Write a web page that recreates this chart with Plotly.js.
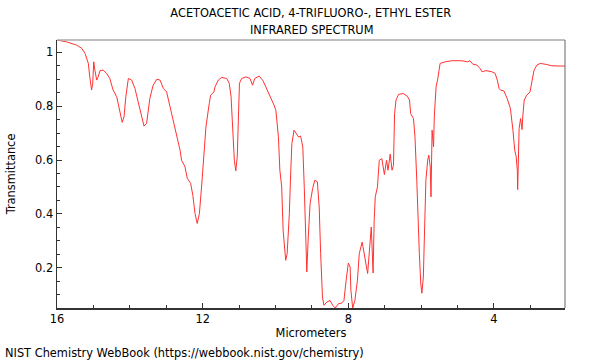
<!DOCTYPE html>
<html><head><meta charset="utf-8">
<script src="https://cdn.plot.ly/plotly-3.0.1.min.js"></script>
<style>html,body{margin:0;padding:0;background:#fff}#c{width:600px;height:360px}</style>
</head><body><div id="c"></div>
<script>
const wavelength = [16.00,15.74,15.46,15.32,15.23,15.14,15.10,15.05,15.02,14.99,
14.96,14.91,14.87,14.82,14.73,14.64,14.55,14.46,14.36,14.27,
14.21,14.16,14.11,14.04,13.95,13.86,13.77,13.70,13.61,13.54,
13.45,13.36,13.26,13.17,13.08,12.99,12.90,12.81,12.71,12.62,
12.58,12.49,12.42,12.33,12.27,12.21,12.15,12.09,12.03,11.98,
11.91,11.82,11.78,11.69,11.66,11.57,11.48,11.34,11.27,11.22,
11.18,11.13,11.09,11.05,11.02,10.99,10.93,10.81,10.70,10.63,
10.57,10.45,10.34,10.24,10.15,10.04,9.99,9.92,9.88,9.83,
9.79,9.72,9.68,9.62,9.58,9.55,9.49,9.42,9.37,9.31,
9.25,9.21,9.17,9.14,9.10,9.05,8.98,8.92,8.85,8.80,
8.76,8.71,8.67,8.59,8.50,8.43,8.36,8.27,8.18,8.12,
8.06,8.00,7.95,7.93,7.88,7.82,7.75,7.70,7.62,7.56,
7.47,7.37,7.32,7.29,7.26,7.20,7.15,7.08,7.01,6.95,
6.91,6.85,6.80,6.76,6.73,6.69,6.62,6.49,6.38,6.32,
6.29,6.21,6.17,6.12,6.08,6.05,6.01,5.98,5.94,5.91,
5.87,5.82,5.79,5.75,5.73,5.70,5.66,5.64,5.59,5.55,
5.48,5.34,5.16,4.88,4.73,4.66,4.58,4.47,4.38,4.33,
4.22,4.06,3.97,3.91,3.86,3.82,3.73,3.64,3.55,3.48,
3.43,3.39,3.36,3.35,3.33,3.31,3.27,3.25,3.23,3.21,
3.17,3.10,3.01,2.96,2.90,2.82,2.73,2.55,2.41,2.05];
const transmittance = [1.046,1.039,1.027,1.015,0.996,0.959,0.909,0.860,0.885,0.965,
0.934,0.897,0.909,0.932,0.934,0.922,0.903,0.860,0.835,0.773,
0.740,0.760,0.835,0.903,0.897,0.866,0.816,0.773,0.726,0.736,
0.829,0.878,0.900,0.897,0.866,0.853,0.798,0.754,0.686,0.636,
0.599,0.577,0.531,0.513,0.469,0.401,0.364,0.401,0.500,0.612,
0.723,0.810,0.841,0.853,0.872,0.897,0.907,0.903,0.885,0.835,
0.723,0.599,0.560,0.612,0.748,0.885,0.903,0.909,0.903,0.878,
0.903,0.912,0.894,0.866,0.835,0.804,0.785,0.686,0.562,0.500,
0.339,0.227,0.252,0.401,0.562,0.661,0.711,0.699,0.686,0.689,
0.649,0.500,0.277,0.184,0.314,0.438,0.494,0.525,0.519,0.425,
0.252,0.091,0.060,0.072,0.078,0.060,0.050,0.066,0.068,0.078,
0.153,0.217,0.202,0.116,0.050,0.078,0.153,0.252,0.295,0.252,
0.178,0.351,0.180,0.376,0.463,0.500,0.599,0.605,0.546,0.599,
0.562,0.622,0.562,0.580,0.773,0.823,0.844,0.847,0.837,0.823,
0.773,0.754,0.686,0.525,0.339,0.252,0.140,0.105,0.165,0.376,
0.525,0.599,0.618,0.574,0.463,0.711,0.649,0.760,0.872,0.897,
0.959,0.965,0.969,0.969,0.965,0.969,0.956,0.953,0.940,0.928,
0.932,0.928,0.922,0.897,0.866,0.860,0.857,0.829,0.792,0.711,
0.636,0.612,0.562,0.490,0.636,0.717,0.754,0.729,0.713,0.760,
0.823,0.841,0.853,0.891,0.934,0.953,0.959,0.955,0.950,0.949];
const xTicks = [16, 12, 8, 4];
const yTicks = [0.2, 0.4, 0.6, 0.8, 1];
const yTickText = ['0.2', '0.4', '0.6', '0.8', '1'];

const F = 'DejaVu Sans, sans-serif';
const FS = 11.4;
Plotly.newPlot('c', [{
  x: wavelength, y: transmittance, type: 'scatter', mode: 'lines',
  line: {color: 'rgb(255,50,50)', width: 1}, hoverinfo: 'skip'
}], {
  width: 600, height: 360,
  margin: {l: 57, r: 35, t: 40, b: 52},
  paper_bgcolor: '#fff', plot_bgcolor: '#fff',
  showlegend: false,
  font: {family: F, size: FS, color: '#000'},
  title: {text: 'ACETOACETIC ACID, 4-TRIFLUORO-, ETHYL ESTER',
    font: {family: F, size: FS, color: '#000'}, x: 0.518, xanchor: 'center',
    yref: 'container', y: 0.964, yanchor: 'middle'},
  xaxis: {
    range: [16, 2.05], autorange: false, tickvals: xTicks, ticktext: xTicks.map(String),
    ticks: 'inside', ticklen: 5, tickcolor: '#333', showgrid: false, zeroline: false,
    showline: true, linecolor: '#333', linewidth: 1.5,
    minor: {dtick: 1, ticks: 'inside', ticklen: 3, tickcolor: '#333', showgrid: false},
    tickfont: {family: F, size: FS},
    title: {text: 'Micrometers', font: {family: F, size: FS}, standoff: 3}
  },
  yaxis: {
    range: [0.05, 1.046], autorange: false, tickvals: yTicks, ticktext: yTickText,
    ticks: 'inside', ticklen: 5, tickcolor: '#333', showgrid: false, zeroline: false,
    showline: true, linecolor: '#333', linewidth: 1.5,
    minor: {dtick: 0.05, ticks: 'inside', ticklen: 3, tickcolor: '#333', showgrid: false},
    tickfont: {family: F, size: FS},
    title: {text: 'Transmittance', font: {family: F, size: FS}, standoff: 17}
  },
  shapes: [
    {type: 'line', xref: 'paper', yref: 'paper', x0: 0, x1: 1, y0: 1, y1: 1, line: {color: '#aaa', width: 1.5}},
    {type: 'line', xref: 'paper', yref: 'paper', x0: 1, x1: 1, y0: 0, y1: 1, line: {color: '#666', width: 1}}
  ],
  annotations: [{
    text: 'INFRARED SPECTRUM',
    xref: 'paper', yref: 'paper', x: 0.5, y: 1.037, xanchor: 'center', yanchor: 'middle',
    showarrow: false, font: {family: F, size: FS, color: '#000'}
  }, {
    text: 'NIST Chemistry WebBook (https://webbook.nist.gov/chemistry)',
    xref: 'paper', yref: 'paper', x: -0.106, y: -0.135, xanchor: 'left', yanchor: 'top',
    showarrow: false, font: {family: F, size: FS, color: '#000'}
  }]
}, {displayModeBar: false, staticPlot: true});
</script></body></html>
